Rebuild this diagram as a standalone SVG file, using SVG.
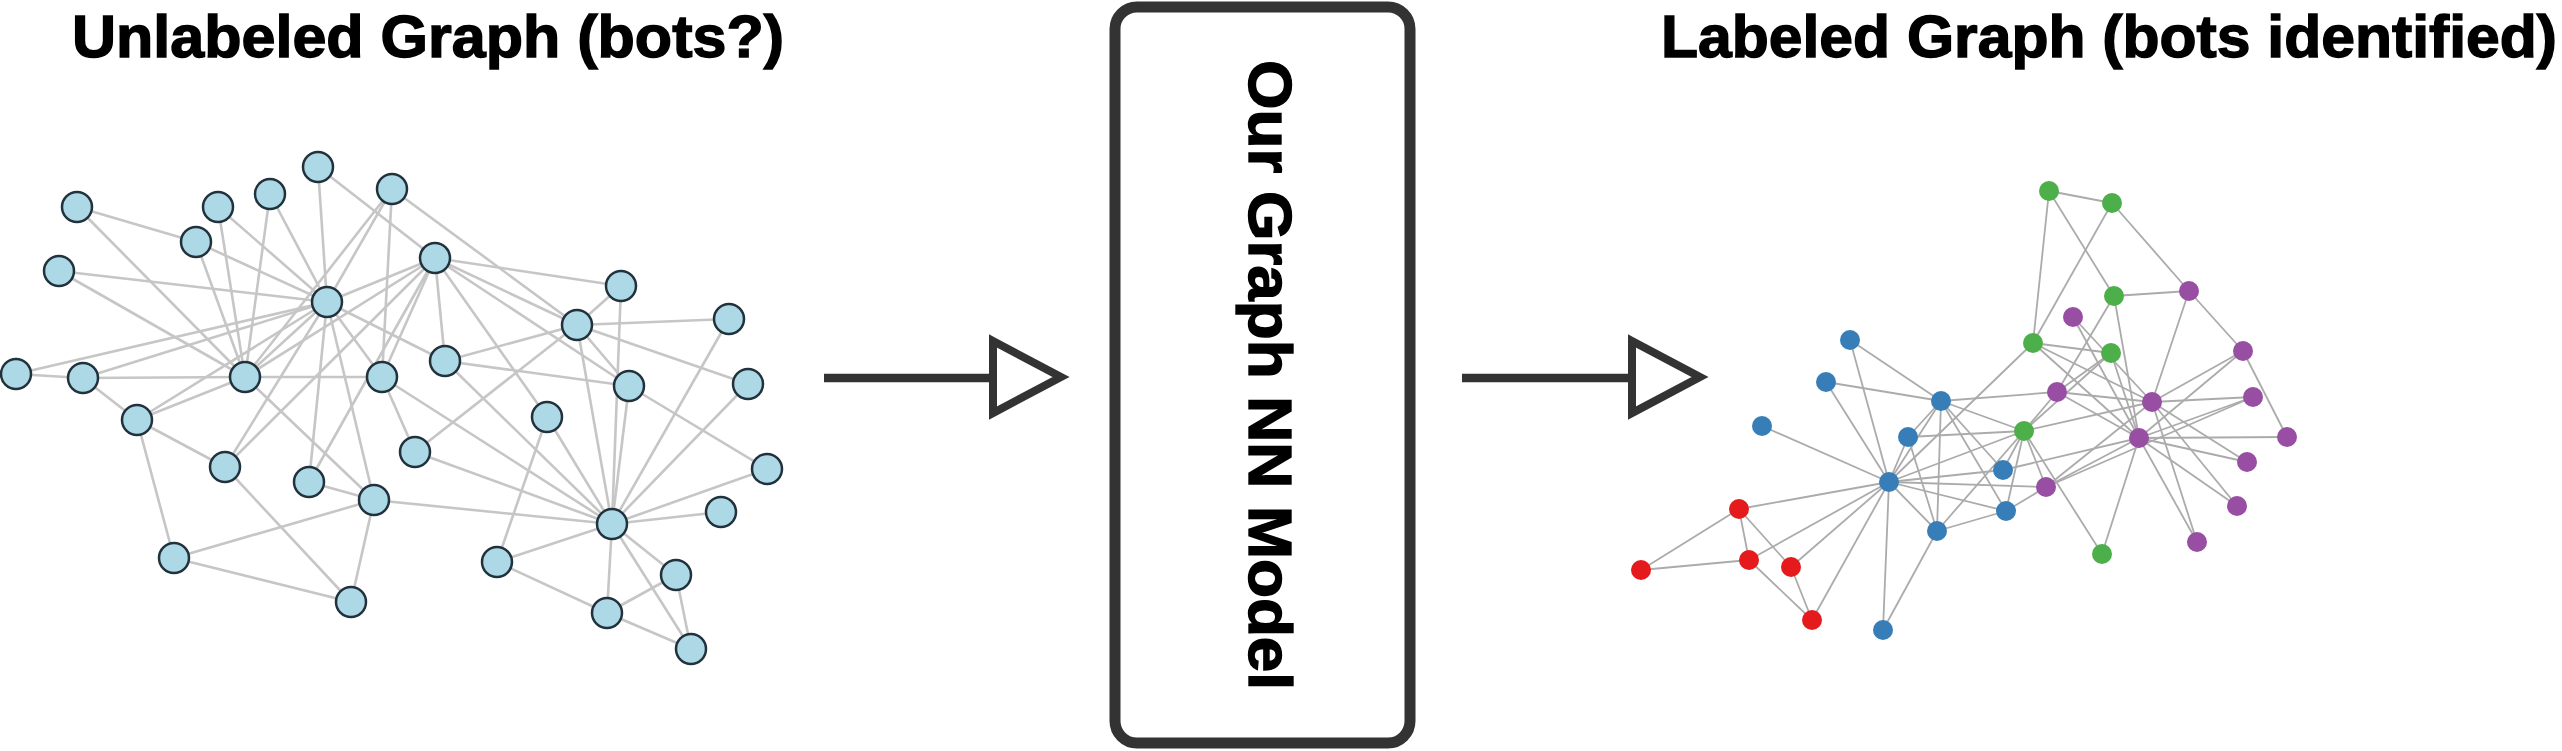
<svg xmlns="http://www.w3.org/2000/svg" width="2562" height="751" viewBox="0 0 2562 751">
<style>
.title{font-family:"Liberation Sans",Arial,sans-serif;font-weight:bold;font-size:59px;fill:#000;stroke:#000;stroke-width:1.4}
.model{font-family:"Liberation Sans",Arial,sans-serif;font-weight:bold;font-size:61px;fill:#000;stroke:#000;stroke-width:1.4}
.le line{stroke:#c6c6c6;stroke-width:2.6}
.re line{stroke:#ababab;stroke-width:1.8}
.ln{fill:#add8e6;stroke:#22323d;stroke-width:2.5}
.g{fill:#4daf4a}.p{fill:#984ea3}.b{fill:#377eb8}.r{fill:#e41a1c}
.arr{stroke:#333;stroke-width:8.5;fill:none}
.tri{stroke:#333;stroke-width:8;fill:#fff;stroke-linejoin:miter}
</style>
<rect width="2562" height="751" fill="#fff"/>
<text class="title" x="72" y="57" textLength="712" lengthAdjust="spacingAndGlyphs">Unlabeled Graph (bots?)</text>
<text class="title" x="1661" y="57" textLength="896" lengthAdjust="spacingAndGlyphs">Labeled Graph (bots identified)</text>

<g id="connectors">
<line class="arr" x1="824" y1="378" x2="992" y2="378"/>
<polygon class="tri" points="993,341 1061,377 993,413"/>
<line class="arr" x1="1462" y1="378" x2="1631" y2="378"/>
<polygon class="tri" points="1632,341 1700,377 1632,413"/>
</g>

<g id="model">
<rect x="1115" y="7" width="295" height="736" rx="22" fill="#fff" stroke="#333" stroke-width="11"/>
<text class="model" transform="translate(1249,375) rotate(90)" text-anchor="middle" textLength="630" lengthAdjust="spacingAndGlyphs">Our Graph NN Model</text>
</g>

<g id="unlabeled-graph">
<g class="le">
<line x1="77" y1="207" x2="196" y2="242"/>
<line x1="77" y1="207" x2="245" y2="377"/>
<line x1="59" y1="271" x2="327" y2="302"/>
<line x1="59" y1="271" x2="245" y2="377"/>
<line x1="196" y1="242" x2="327" y2="302"/>
<line x1="196" y1="242" x2="245" y2="377"/>
<line x1="218" y1="207" x2="327" y2="302"/>
<line x1="218" y1="207" x2="245" y2="377"/>
<line x1="270" y1="194" x2="327" y2="302"/>
<line x1="270" y1="194" x2="245" y2="377"/>
<line x1="318" y1="167" x2="327" y2="302"/>
<line x1="318" y1="167" x2="435" y2="258"/>
<line x1="392" y1="189" x2="327" y2="302"/>
<line x1="392" y1="189" x2="245" y2="377"/>
<line x1="392" y1="189" x2="382" y2="377"/>
<line x1="392" y1="189" x2="577" y2="325"/>
<line x1="327" y1="302" x2="16" y2="374"/>
<line x1="327" y1="302" x2="83" y2="378"/>
<line x1="327" y1="302" x2="245" y2="377"/>
<line x1="327" y1="302" x2="137" y2="420"/>
<line x1="327" y1="302" x2="225" y2="467"/>
<line x1="327" y1="302" x2="309" y2="482"/>
<line x1="327" y1="302" x2="374" y2="500"/>
<line x1="327" y1="302" x2="382" y2="377"/>
<line x1="327" y1="302" x2="435" y2="258"/>
<line x1="327" y1="302" x2="445" y2="361"/>
<line x1="16" y1="374" x2="83" y2="378"/>
<line x1="83" y1="378" x2="245" y2="377"/>
<line x1="83" y1="378" x2="137" y2="420"/>
<line x1="245" y1="377" x2="382" y2="377"/>
<line x1="245" y1="377" x2="137" y2="420"/>
<line x1="245" y1="377" x2="374" y2="500"/>
<line x1="245" y1="377" x2="435" y2="258"/>
<line x1="137" y1="420" x2="225" y2="467"/>
<line x1="137" y1="420" x2="174" y2="558"/>
<line x1="225" y1="467" x2="351" y2="602"/>
<line x1="225" y1="467" x2="435" y2="258"/>
<line x1="309" y1="482" x2="435" y2="258"/>
<line x1="309" y1="482" x2="374" y2="500"/>
<line x1="374" y1="500" x2="174" y2="558"/>
<line x1="374" y1="500" x2="351" y2="602"/>
<line x1="374" y1="500" x2="612" y2="524"/>
<line x1="174" y1="558" x2="351" y2="602"/>
<line x1="382" y1="377" x2="415" y2="452"/>
<line x1="382" y1="377" x2="612" y2="524"/>
<line x1="382" y1="377" x2="435" y2="258"/>
<line x1="435" y1="258" x2="445" y2="361"/>
<line x1="435" y1="258" x2="621" y2="286"/>
<line x1="435" y1="258" x2="577" y2="325"/>
<line x1="435" y1="258" x2="629" y2="386"/>
<line x1="435" y1="258" x2="547" y2="417"/>
<line x1="445" y1="361" x2="577" y2="325"/>
<line x1="445" y1="361" x2="629" y2="386"/>
<line x1="445" y1="361" x2="612" y2="524"/>
<line x1="415" y1="452" x2="577" y2="325"/>
<line x1="415" y1="452" x2="612" y2="524"/>
<line x1="547" y1="417" x2="612" y2="524"/>
<line x1="547" y1="417" x2="497" y2="562"/>
<line x1="621" y1="286" x2="577" y2="325"/>
<line x1="621" y1="286" x2="612" y2="524"/>
<line x1="577" y1="325" x2="729" y2="319"/>
<line x1="577" y1="325" x2="748" y2="384"/>
<line x1="577" y1="325" x2="629" y2="386"/>
<line x1="577" y1="325" x2="612" y2="524"/>
<line x1="629" y1="386" x2="767" y2="469"/>
<line x1="629" y1="386" x2="612" y2="524"/>
<line x1="729" y1="319" x2="612" y2="524"/>
<line x1="748" y1="384" x2="612" y2="524"/>
<line x1="767" y1="469" x2="612" y2="524"/>
<line x1="721" y1="512" x2="612" y2="524"/>
<line x1="612" y1="524" x2="497" y2="562"/>
<line x1="612" y1="524" x2="607" y2="613"/>
<line x1="612" y1="524" x2="676" y2="575"/>
<line x1="612" y1="524" x2="691" y2="649"/>
<line x1="676" y1="575" x2="691" y2="649"/>
<line x1="607" y1="613" x2="676" y2="575"/>
<line x1="607" y1="613" x2="691" y2="649"/>
<line x1="497" y1="562" x2="607" y2="613"/>
</g>
<g class="ln">
<circle cx="318" cy="167" r="15"/>
<circle cx="392" cy="189" r="15"/>
<circle cx="270" cy="194" r="15"/>
<circle cx="218" cy="207" r="15"/>
<circle cx="77" cy="207" r="15"/>
<circle cx="196" cy="242" r="15"/>
<circle cx="59" cy="271" r="15"/>
<circle cx="327" cy="302" r="15"/>
<circle cx="16" cy="374" r="15"/>
<circle cx="83" cy="378" r="15"/>
<circle cx="245" cy="377" r="15"/>
<circle cx="382" cy="377" r="15"/>
<circle cx="137" cy="420" r="15"/>
<circle cx="225" cy="467" r="15"/>
<circle cx="309" cy="482" r="15"/>
<circle cx="374" cy="500" r="15"/>
<circle cx="174" cy="558" r="15"/>
<circle cx="351" cy="602" r="15"/>
<circle cx="435" cy="258" r="15"/>
<circle cx="621" cy="286" r="15"/>
<circle cx="577" cy="325" r="15"/>
<circle cx="729" cy="319" r="15"/>
<circle cx="445" cy="361" r="15"/>
<circle cx="629" cy="386" r="15"/>
<circle cx="748" cy="384" r="15"/>
<circle cx="547" cy="417" r="15"/>
<circle cx="415" cy="452" r="15"/>
<circle cx="767" cy="469" r="15"/>
<circle cx="721" cy="512" r="15"/>
<circle cx="612" cy="524" r="15"/>
<circle cx="497" cy="562" r="15"/>
<circle cx="676" cy="575" r="15"/>
<circle cx="607" cy="613" r="15"/>
<circle cx="691" cy="649" r="15"/>
</g>
</g>

<g id="labeled-graph">
<g class="re">
<line x1="2049" y1="191" x2="2112" y2="203"/>
<line x1="2049" y1="191" x2="2033" y2="343"/>
<line x1="2049" y1="191" x2="2114" y2="296"/>
<line x1="2112" y1="203" x2="2033" y2="343"/>
<line x1="2112" y1="203" x2="2189" y2="291"/>
<line x1="2114" y1="296" x2="2189" y2="291"/>
<line x1="2114" y1="296" x2="2057" y2="392"/>
<line x1="2114" y1="296" x2="2139" y2="438"/>
<line x1="2189" y1="291" x2="2243" y2="351"/>
<line x1="2189" y1="291" x2="2152" y2="402"/>
<line x1="2073" y1="317" x2="2152" y2="402"/>
<line x1="2073" y1="317" x2="2139" y2="438"/>
<line x1="2033" y1="343" x2="2111" y2="353"/>
<line x1="2033" y1="343" x2="2152" y2="402"/>
<line x1="2033" y1="343" x2="2139" y2="438"/>
<line x1="2033" y1="343" x2="1889" y2="482"/>
<line x1="2111" y1="353" x2="2057" y2="392"/>
<line x1="2111" y1="353" x2="2139" y2="438"/>
<line x1="2111" y1="353" x2="2024" y2="431"/>
<line x1="2243" y1="351" x2="2152" y2="402"/>
<line x1="2243" y1="351" x2="2139" y2="438"/>
<line x1="2243" y1="351" x2="2287" y2="437"/>
<line x1="2057" y1="392" x2="2152" y2="402"/>
<line x1="2057" y1="392" x2="2024" y2="431"/>
<line x1="2057" y1="392" x2="2139" y2="438"/>
<line x1="1941" y1="401" x2="2057" y2="392"/>
<line x1="2152" y1="402" x2="2253" y2="397"/>
<line x1="2152" y1="402" x2="2024" y2="431"/>
<line x1="2152" y1="402" x2="2247" y2="462"/>
<line x1="2152" y1="402" x2="2237" y2="506"/>
<line x1="2152" y1="402" x2="2197" y2="542"/>
<line x1="2152" y1="402" x2="2046" y2="487"/>
<line x1="2253" y1="397" x2="2139" y2="438"/>
<line x1="2253" y1="397" x2="2046" y2="487"/>
<line x1="2139" y1="438" x2="2287" y2="437"/>
<line x1="2139" y1="438" x2="2247" y2="462"/>
<line x1="2139" y1="438" x2="2237" y2="506"/>
<line x1="2139" y1="438" x2="2197" y2="542"/>
<line x1="2139" y1="438" x2="2102" y2="554"/>
<line x1="2139" y1="438" x2="2046" y2="487"/>
<line x1="2139" y1="438" x2="2003" y2="470"/>
<line x1="2024" y1="431" x2="2046" y2="487"/>
<line x1="2024" y1="431" x2="2102" y2="554"/>
<line x1="2024" y1="431" x2="2003" y2="470"/>
<line x1="2024" y1="431" x2="2006" y2="511"/>
<line x1="2024" y1="431" x2="1941" y2="401"/>
<line x1="2024" y1="431" x2="1908" y2="437"/>
<line x1="2024" y1="431" x2="1889" y2="482"/>
<line x1="2046" y1="487" x2="2006" y2="511"/>
<line x1="2046" y1="487" x2="1889" y2="482"/>
<line x1="2003" y1="470" x2="1941" y2="401"/>
<line x1="2003" y1="470" x2="1889" y2="482"/>
<line x1="2006" y1="511" x2="1889" y2="482"/>
<line x1="2006" y1="511" x2="1941" y2="401"/>
<line x1="2006" y1="511" x2="1937" y2="531"/>
<line x1="1850" y1="340" x2="1941" y2="401"/>
<line x1="1850" y1="340" x2="1889" y2="482"/>
<line x1="1826" y1="382" x2="1941" y2="401"/>
<line x1="1826" y1="382" x2="1889" y2="482"/>
<line x1="1762" y1="426" x2="1889" y2="482"/>
<line x1="1739" y1="509" x2="1889" y2="482"/>
<line x1="1739" y1="509" x2="1641" y2="570"/>
<line x1="1739" y1="509" x2="1749" y2="560"/>
<line x1="1739" y1="509" x2="1791" y2="567"/>
<line x1="1641" y1="570" x2="1749" y2="560"/>
<line x1="1749" y1="560" x2="1889" y2="482"/>
<line x1="1749" y1="560" x2="1812" y2="620"/>
<line x1="1791" y1="567" x2="1812" y2="620"/>
<line x1="1791" y1="567" x2="1889" y2="482"/>
<line x1="1812" y1="620" x2="1889" y2="482"/>
<line x1="1889" y1="482" x2="1883" y2="630"/>
<line x1="1937" y1="531" x2="1883" y2="630"/>
<line x1="1889" y1="482" x2="1908" y2="437"/>
<line x1="1889" y1="482" x2="1941" y2="401"/>
<line x1="1889" y1="482" x2="1937" y2="531"/>
<line x1="1908" y1="437" x2="1937" y2="531"/>
<line x1="1941" y1="401" x2="1937" y2="531"/>
<line x1="1941" y1="401" x2="1908" y2="437"/>
<line x1="1937" y1="531" x2="2024" y2="431"/>
</g>
<g class="g">
<circle cx="2049" cy="191" r="10"/>
<circle cx="2112" cy="203" r="10"/>
<circle cx="2114" cy="296" r="10"/>
<circle cx="2033" cy="343" r="10"/>
<circle cx="2111" cy="353" r="10"/>
<circle cx="2024" cy="431" r="10"/>
<circle cx="2102" cy="554" r="10"/>
</g>
<g class="p">
<circle cx="2189" cy="291" r="10"/>
<circle cx="2073" cy="317" r="10"/>
<circle cx="2243" cy="351" r="10"/>
<circle cx="2057" cy="392" r="10"/>
<circle cx="2152" cy="402" r="10"/>
<circle cx="2253" cy="397" r="10"/>
<circle cx="2139" cy="438" r="10"/>
<circle cx="2287" cy="437" r="10"/>
<circle cx="2247" cy="462" r="10"/>
<circle cx="2046" cy="487" r="10"/>
<circle cx="2237" cy="506" r="10"/>
<circle cx="2197" cy="542" r="10"/>
</g>
<g class="b">
<circle cx="1850" cy="340" r="10"/>
<circle cx="1826" cy="382" r="10"/>
<circle cx="1941" cy="401" r="10"/>
<circle cx="1762" cy="426" r="10"/>
<circle cx="1908" cy="437" r="10"/>
<circle cx="2003" cy="470" r="10"/>
<circle cx="1889" cy="482" r="10"/>
<circle cx="2006" cy="511" r="10"/>
<circle cx="1937" cy="531" r="10"/>
<circle cx="1883" cy="630" r="10"/>
</g>
<g class="r">
<circle cx="1739" cy="509" r="10"/>
<circle cx="1641" cy="570" r="10"/>
<circle cx="1749" cy="560" r="10"/>
<circle cx="1791" cy="567" r="10"/>
<circle cx="1812" cy="620" r="10"/>
</g>
</g>
</svg>
